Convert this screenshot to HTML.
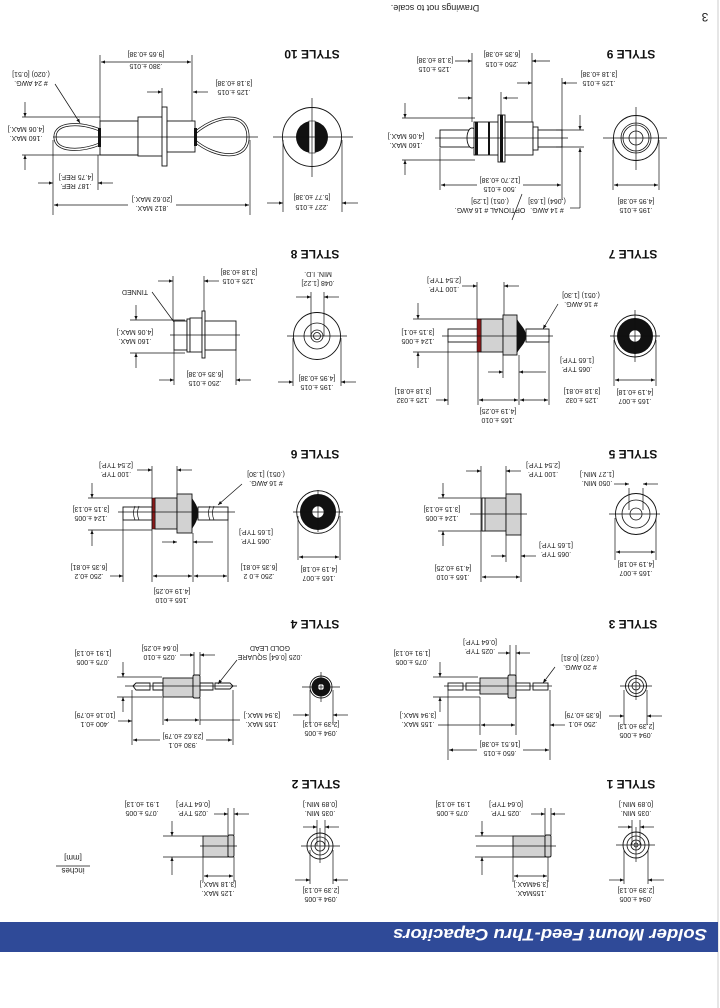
<!DOCTYPE html>
<html><head><meta charset="utf-8"><style>
html,body{margin:0;padding:0;background:#fff}
svg{display:block}
text{font-family:"Liberation Sans",sans-serif;font-size:7px;fill:#222;text-anchor:middle}
.b{font-weight:bold;font-size:12px;fill:#111}
.l{fill:none;stroke:#111;stroke-width:0.8}
.d{fill:none;stroke:#111;stroke-width:0.7}
.g{fill:#d2d2d2;stroke:#111;stroke-width:0.9}
.w{fill:#fff;stroke:#111;stroke-width:0.9}
</style></head><body>
<svg width="720" height="1008" viewBox="0 0 720 1008" xmlns="http://www.w3.org/2000/svg">
<defs>
<marker id="a" viewBox="0 0 10 10" refX="10" refY="5" markerWidth="6" markerHeight="6" orient="auto-start-reverse"><path d="M0,1 L10,5 L0,9 z" fill="#111"/></marker>
</defs>
<line x1="718" y1="0" x2="718" y2="1008" stroke="#ccc" stroke-width="1"/>
<!-- header -->
<text x="435" y="5" transform="rotate(180 435 5)" style="font-size:9px">Drawings not to scale.</text>
<text x="705" y="13" transform="rotate(180 705 13)" style="font-size:12px">3</text>
<!-- banner -->
<rect x="0" y="922" width="718" height="30" fill="#2f4a98"/>
<text x="550" y="929" transform="rotate(180 550 929)" textLength="314" lengthAdjust="spacingAndGlyphs" style="font-size:17px;font-weight:bold;font-style:italic;fill:#fff">Solder Mount Feed-Thru Capacitors</text>

<!-- ================= STYLE 9 ================= -->
<text class="b" x="631" y="50" transform="rotate(180 631 50)">STYLE 9</text>
<circle cx="636" cy="138" r="22.5" class="w"/>
<circle cx="636" cy="138" r="15" class="l"/>
<circle cx="636" cy="138" r="13" class="l"/>
<circle cx="636" cy="138" r="7" class="l"/>
<line x1="603" y1="138" x2="667" y2="138" class="d"/><line x1="636" y1="107" x2="636" y2="170" class="d"/>
<line x1="613" y1="140" x2="613" y2="190" class="d"/><line x1="659" y1="140" x2="659" y2="190" class="d"/>
<line x1="614" y1="185" x2="658" y2="185" class="d" marker-start="url(#a)" marker-end="url(#a)"/>
<text x="636" y="199" transform="rotate(180 636 199)">[4.95 ±0.38]</text>
<text x="636" y="208" transform="rotate(180 636 208)">.195 ±.015</text>
<!-- side -->
<rect x="440" y="130" width="34" height="17" class="w"/>
<ellipse cx="472" cy="138" rx="5" ry="10" class="w"/>
<rect x="474" y="122" width="59" height="33" class="w"/>
<rect x="498" y="115" width="7" height="47" class="w"/>
<rect x="475" y="122" width="3" height="33" fill="#111"/>
<rect x="488" y="122" width="2" height="33" fill="#111"/>
<rect x="500" y="115" width="3" height="47" fill="#111"/>
<rect x="533" y="127" width="5" height="23" class="w"/>
<rect x="538" y="130" width="24" height="17" class="w"/>
<line x1="435" y1="138" x2="568" y2="138" class="d"/>
<line x1="472" y1="53" x2="472" y2="122" class="d"/><line x1="532" y1="53" x2="532" y2="122" class="d"/>
<line x1="455" y1="61" x2="472" y2="61" class="d" marker-end="url(#a)"/><line x1="550" y1="61" x2="532" y2="61" class="d" marker-end="url(#a)"/>
<text x="502" y="52" transform="rotate(180 502 52)">[6.35 ±0.38]</text>
<text x="502" y="62" transform="rotate(180 502 62)">.250 ±.015</text>
<line x1="501" y1="92" x2="501" y2="115" class="d"/>
<line x1="458" y1="98" x2="472" y2="98" class="d" marker-end="url(#a)"/><line x1="518" y1="98" x2="503" y2="98" class="d" marker-end="url(#a)"/>
<text x="435" y="58" transform="rotate(180 435 58)">[3.18 ±0.38]</text>
<text x="435" y="67" transform="rotate(180 435 67)">.125 ±.015</text>
<line x1="562" y1="78" x2="562" y2="200" class="d"/>
<line x1="517" y1="83" x2="532" y2="83" class="d" marker-end="url(#a)"/><line x1="577" y1="83" x2="562" y2="83" class="d" marker-end="url(#a)"/>
<text x="599" y="72" transform="rotate(180 599 72)">[3.18 ±0.38]</text>
<text x="599" y="81" transform="rotate(180 599 81)">.125 ±.015</text>
<line x1="402" y1="118" x2="475" y2="118" class="d"/><line x1="402" y1="160" x2="475" y2="160" class="d"/>
<line x1="405" y1="103" x2="405" y2="118" class="d" marker-end="url(#a)"/><line x1="405" y1="175" x2="405" y2="160" class="d" marker-end="url(#a)"/>
<text x="406" y="134" transform="rotate(180 406 134)">[4.06 MAX.]</text>
<text x="406" y="143" transform="rotate(180 406 143)">.160 MAX.</text>
<line x1="440" y1="148" x2="440" y2="190" class="d"/>
<line x1="441" y1="185" x2="477" y2="185" class="d" marker-start="url(#a)"/><line x1="523" y1="185" x2="561" y2="185" class="d" marker-end="url(#a)"/>
<text x="500" y="178" transform="rotate(180 500 178)">[12.70 ±0.38]</text>
<text x="500" y="187" transform="rotate(180 500 187)">.500 ±.015</text>
<line x1="570" y1="208" x2="580" y2="208" class="d"/><line x1="580" y1="208" x2="580" y2="148" class="d" marker-end="url(#a)"/>
<line x1="580" y1="115" x2="580" y2="130" class="d" marker-end="url(#a)"/>
<line x1="556" y1="147" x2="584" y2="147" class="d"/><line x1="556" y1="130" x2="584" y2="130" class="d"/>
<line x1="522" y1="194" x2="512" y2="220" class="d"/>
<text x="547" y="199" transform="rotate(180 547 199)">(.064) [1.63]</text>
<text x="547" y="208" transform="rotate(180 547 208)"># 14 AWG.</text>
<text x="490" y="199" transform="rotate(180 490 199)">(.051) [1.29]</text>
<text x="490" y="208" transform="rotate(180 490 208)">OPTIONAL # 16 AWG.</text>

<!-- ================= STYLE 10 ================= -->
<text class="b" x="312" y="50" transform="rotate(180 312 50)">STYLE 10</text>
<circle cx="312" cy="137" r="29.5" class="w"/>
<circle cx="312" cy="137" r="16" fill="#111"/>
<rect x="309" y="121" width="6" height="32" fill="#fff" stroke="#111" stroke-width="0.6"/>
<line x1="273" y1="137" x2="353" y2="137" class="d"/><line x1="312" y1="98" x2="312" y2="177" class="d"/>
<line x1="283" y1="140" x2="283" y2="212" class="d"/><line x1="342" y1="140" x2="342" y2="212" class="d"/>
<line x1="267" y1="203" x2="283" y2="203" class="d" marker-end="url(#a)"/><line x1="358" y1="203" x2="342" y2="203" class="d" marker-end="url(#a)"/>
<text x="312" y="195" transform="rotate(180 312 195)">[5.77 ±0.38]</text>
<text x="312" y="205" transform="rotate(180 312 205)">.227 ±.015</text>
<!-- side -->
<path d="M100,130 C80,122 55,122 55,137 C55,152 80,152 100,144 Z" fill="none" stroke="#111" stroke-width="3"/>
<path d="M100,130 C80,122 55,122 55,137 C55,152 80,152 100,144 Z" fill="none" stroke="#fff" stroke-width="1.5"/>
<path d="M195,133 C215,115 248,110 248,137 C248,162 215,158 195,141 Z" fill="none" stroke="#111" stroke-width="3"/>
<path d="M195,133 C215,115 248,110 248,137 C248,162 215,158 195,141 Z" fill="none" stroke="#fff" stroke-width="1.5"/>
<rect x="100" y="121" width="38" height="34" class="w"/>
<rect x="138" y="117" width="25" height="39" class="w"/>
<rect x="162" y="107" width="5" height="59" class="w"/>
<rect x="167" y="121" width="28" height="31" class="w"/>
<rect x="98" y="128" width="3" height="19" fill="#111"/><rect x="194" y="128" width="3" height="18" fill="#111"/>
<line x1="53" y1="137" x2="258" y2="137" class="d"/>
<line x1="100" y1="55" x2="100" y2="121" class="d"/><line x1="192" y1="55" x2="192" y2="121" class="d"/>
<line x1="101" y1="62" x2="191" y2="62" class="d" marker-start="url(#a)" marker-end="url(#a)"/>
<text x="146" y="52" transform="rotate(180 146 52)">[9.65 ±0.38]</text>
<text x="146" y="64" transform="rotate(180 146 64)">.380 ±.015</text>
<line x1="162" y1="88" x2="162" y2="107" class="d"/>
<line x1="147" y1="92" x2="162" y2="92" class="d" marker-end="url(#a)"/><line x1="208" y1="92" x2="193" y2="92" class="d" marker-end="url(#a)"/>
<text x="234" y="81" transform="rotate(180 234 81)">[3.18 ±0.38]</text>
<text x="234" y="90" transform="rotate(180 234 90)">.125 ±.015</text>
<text x="31" y="72" transform="rotate(180 31 72)">(.020) [0.51]</text>
<text x="31" y="81" transform="rotate(180 31 81)"># 24 AWG.</text>
<line x1="55" y1="84" x2="80" y2="123" class="d" marker-end="url(#a)"/>
<line x1="22" y1="117" x2="100" y2="117" class="d"/><line x1="22" y1="155" x2="138" y2="155" class="d"/>
<line x1="25" y1="102" x2="25" y2="117" class="d" marker-end="url(#a)"/><line x1="25" y1="170" x2="25" y2="155" class="d" marker-end="url(#a)"/>
<text x="26" y="127" transform="rotate(180 26 127)">[4.06 MAX.]</text>
<text x="26" y="136" transform="rotate(180 26 136)">.160 MAX.</text>
<line x1="53" y1="140" x2="53" y2="215" class="d"/><line x1="98" y1="155" x2="98" y2="190" class="d"/><line x1="250" y1="140" x2="250" y2="215" class="d"/>
<line x1="38" y1="183" x2="53" y2="183" class="d" marker-end="url(#a)"/><line x1="113" y1="183" x2="98" y2="183" class="d" marker-end="url(#a)"/>
<text x="76" y="175" transform="rotate(180 76 175)">[4.75 REF.]</text>
<text x="76" y="184" transform="rotate(180 76 184)">.187 REF.</text>
<line x1="54" y1="205" x2="128" y2="205" class="d" marker-start="url(#a)"/><line x1="176" y1="205" x2="249" y2="205" class="d" marker-end="url(#a)"/>
<text x="152" y="197" transform="rotate(180 152 197)">[20.62 MAX.]</text>
<text x="152" y="206" transform="rotate(180 152 206)">.812 MAX.</text>

<!-- ================= STYLE 7 ================= -->
<text class="b" x="633" y="250" transform="rotate(180 633 250)">STYLE 7</text>
<circle cx="635" cy="336" r="21" class="w"/>
<circle cx="635" cy="336" r="18" fill="#111"/>
<circle cx="635" cy="336" r="6" fill="#fff" stroke="#111" stroke-width="0.6"/>
<line x1="610" y1="336" x2="660" y2="336" class="d"/><line x1="635" y1="310" x2="635" y2="362" class="d"/>
<line x1="614" y1="340" x2="614" y2="386" class="d"/><line x1="656" y1="340" x2="656" y2="386" class="d"/>
<line x1="615" y1="380" x2="655" y2="380" class="d" marker-start="url(#a)" marker-end="url(#a)"/>
<text x="635" y="390" transform="rotate(180 635 390)">[4.19 ±0.18]</text>
<text x="635" y="399" transform="rotate(180 635 399)">.165 ±.007</text>
<rect x="448" y="329" width="30" height="13" class="w"/>
<rect x="526" y="329" width="23" height="13" class="w"/>
<path d="M517,319 C521,326 526,329 526,336 C526,343 521,346 517,353 Z" fill="#111"/>
<rect x="481" y="319" width="22" height="33" class="g"/>
<rect x="503" y="315" width="14" height="40" class="g"/>
<rect x="477" y="319" width="4" height="33" fill="#8a1a1a" stroke="#111" stroke-width="0.5"/>
<line x1="442" y1="336" x2="553" y2="336" class="d"/>
<line x1="477" y1="282" x2="477" y2="319" class="d"/><line x1="504" y1="282" x2="504" y2="315" class="d"/>
<line x1="462" y1="286" x2="477" y2="286" class="d" marker-end="url(#a)"/><line x1="519" y1="286" x2="504" y2="286" class="d" marker-end="url(#a)"/>
<text x="444" y="278" transform="rotate(180 444 278)">[2.54 TYP.]</text>
<text x="444" y="287" transform="rotate(180 444 287)">.100 TYP.</text>
<text x="581" y="293" transform="rotate(180 581 293)">(.051) [1.30]</text>
<text x="581" y="302" transform="rotate(180 581 302)"># 16 AWG.</text>
<line x1="558" y1="304" x2="543" y2="329" class="d" marker-end="url(#a)"/>
<line x1="413" y1="319" x2="481" y2="319" class="d"/><line x1="413" y1="352" x2="481" y2="352" class="d"/>
<line x1="418" y1="303" x2="418" y2="319" class="d" marker-end="url(#a)"/><line x1="418" y1="368" x2="418" y2="352" class="d" marker-end="url(#a)"/>
<text x="418" y="330" transform="rotate(180 418 330)">[3.15 ±0.1]</text>
<text x="418" y="339" transform="rotate(180 418 339)">.124 ±.005</text>
<line x1="503" y1="355" x2="503" y2="378" class="d"/><line x1="519" y1="355" x2="519" y2="405" class="d"/>
<line x1="488" y1="372" x2="503" y2="372" class="d" marker-end="url(#a)"/><line x1="546" y1="372" x2="519" y2="372" class="d" marker-end="url(#a)"/>
<text x="577" y="358" transform="rotate(180 577 358)">[1.65 TYP.]</text>
<text x="577" y="367" transform="rotate(180 577 367)">.065 TYP.</text>
<line x1="448" y1="342" x2="448" y2="405" class="d"/><line x1="478" y1="352" x2="478" y2="405" class="d"/><line x1="549" y1="342" x2="549" y2="405" class="d"/>
<line x1="436" y1="400" x2="448" y2="400" class="d" marker-end="url(#a)"/>
<text x="413" y="389" transform="rotate(180 413 389)">[3.18 ±0.81]</text>
<text x="413" y="398" transform="rotate(180 413 398)">.125 ±.032</text>
<line x1="479" y1="400" x2="518" y2="400" class="d" marker-start="url(#a)" marker-end="url(#a)"/>
<line x1="520" y1="400" x2="548" y2="400" class="d" marker-start="url(#a)" marker-end="url(#a)"/>
<text x="498" y="409" transform="rotate(180 498 409)">[4.19 ±0.25]</text>
<text x="498" y="418" transform="rotate(180 498 418)">.165 ±.010</text>
<text x="582" y="389" transform="rotate(180 582 389)">[3.18 ±0.81]</text>
<text x="582" y="398" transform="rotate(180 582 398)">.125 ±.032</text>

<!-- ================= STYLE 8 ================= -->
<text class="b" x="315" y="250" transform="rotate(180 315 250)">STYLE 8</text>
<circle cx="317" cy="336" r="23.5" class="w"/>
<circle cx="317" cy="336" r="13" class="l"/>
<circle cx="317" cy="336" r="6" class="l"/>
<circle cx="317" cy="336" r="3.5" class="l"/>
<line x1="287" y1="336" x2="347" y2="336" class="d"/>
<line x1="311" y1="292" x2="311" y2="336" class="d"/><line x1="324" y1="292" x2="324" y2="336" class="d"/>
<line x1="296" y1="297" x2="311" y2="297" class="d" marker-end="url(#a)"/><line x1="339" y1="297" x2="324" y2="297" class="d" marker-end="url(#a)"/>
<text x="318" y="272" transform="rotate(180 318 272)">MIN. I.D.</text>
<text x="318" y="281" transform="rotate(180 318 281)">.048 [1.22]</text>
<line x1="293" y1="338" x2="293" y2="386" class="d"/><line x1="341" y1="338" x2="341" y2="386" class="d"/>
<line x1="278" y1="382" x2="293" y2="382" class="d" marker-end="url(#a)"/><line x1="356" y1="382" x2="341" y2="382" class="d" marker-end="url(#a)"/>
<text x="317" y="376" transform="rotate(180 317 376)">[4.95 ±0.38]</text>
<text x="317" y="385" transform="rotate(180 317 385)">.195 ±.015</text>
<rect x="174" y="321" width="13" height="29" class="w"/>
<rect x="187" y="319" width="3" height="33" class="w"/>
<rect x="190" y="318" width="12" height="34" class="w"/>
<rect x="202" y="311" width="3" height="47" class="w"/>
<rect x="205" y="321" width="31" height="29" class="w"/>
<line x1="170" y1="335" x2="240" y2="335" class="d"/>
<line x1="173" y1="276" x2="173" y2="321" class="d"/><line x1="204" y1="276" x2="204" y2="311" class="d"/>
<line x1="158" y1="281" x2="173" y2="281" class="d" marker-end="url(#a)"/><line x1="219" y1="281" x2="204" y2="281" class="d" marker-end="url(#a)"/>
<text x="239" y="270" transform="rotate(180 239 270)">[3.18 ±0.38]</text>
<text x="239" y="279" transform="rotate(180 239 279)">.125 ±.015</text>
<text x="135" y="290" transform="rotate(180 135 290)">TINNED</text>
<line x1="152" y1="292" x2="174" y2="322" class="d"/>
<line x1="130" y1="320" x2="185" y2="320" class="d"/><line x1="130" y1="353" x2="185" y2="353" class="d"/>
<line x1="136" y1="305" x2="136" y2="320" class="d" marker-end="url(#a)"/><line x1="136" y1="368" x2="136" y2="353" class="d" marker-end="url(#a)"/>
<text x="135" y="330" transform="rotate(180 135 330)">[4.06 MAX.]</text>
<text x="135" y="339" transform="rotate(180 135 339)">.160 MAX.</text>
<line x1="174" y1="350" x2="174" y2="385" class="d"/><line x1="236" y1="350" x2="236" y2="385" class="d"/>
<line x1="159" y1="380" x2="174" y2="380" class="d" marker-end="url(#a)"/><line x1="251" y1="380" x2="236" y2="380" class="d" marker-end="url(#a)"/>
<text x="205" y="372" transform="rotate(180 205 372)">[6.35 ±0.38]</text>
<text x="205" y="381" transform="rotate(180 205 381)">.250 ±.015</text>

<!-- ================= STYLE 5 ================= -->
<text class="b" x="633" y="450" transform="rotate(180 633 450)">STYLE 5</text>
<circle cx="636" cy="514" r="20.5" class="w"/>
<circle cx="636" cy="514" r="14" class="l"/>
<circle cx="636" cy="514" r="6" class="l"/>
<line x1="609" y1="514" x2="660" y2="514" class="d"/>
<line x1="629" y1="488" x2="629" y2="510" class="d"/><line x1="643" y1="488" x2="643" y2="510" class="d"/>
<line x1="614" y1="484" x2="629" y2="484" class="d" marker-end="url(#a)"/><line x1="658" y1="484" x2="643" y2="484" class="d" marker-end="url(#a)"/>
<text x="597" y="472" transform="rotate(180 597 472)">[1.27 MIN.]</text>
<text x="597" y="481" transform="rotate(180 597 481)">.050 MIN.</text>
<line x1="615" y1="518" x2="615" y2="560" class="d"/><line x1="656" y1="518" x2="656" y2="560" class="d"/>
<line x1="616" y1="552" x2="655" y2="552" class="d" marker-start="url(#a)" marker-end="url(#a)"/>
<text x="636" y="562" transform="rotate(180 636 562)">[4.19 ±0.18]</text>
<text x="636" y="571" transform="rotate(180 636 571)">.165 ±.007</text>
<rect x="482" y="498" width="24" height="33" class="g"/>
<rect x="482" y="498" width="3" height="33" class="w"/>
<rect x="506" y="494" width="15" height="41" class="g"/>
<line x1="470" y1="514" x2="527" y2="514" class="d"/>
<line x1="481" y1="466" x2="481" y2="582" class="d"/><line x1="506" y1="466" x2="506" y2="494" class="d"/><line x1="506" y1="535" x2="506" y2="562" class="d"/><line x1="521" y1="535" x2="521" y2="582" class="d"/>
<line x1="466" y1="471" x2="481" y2="471" class="d" marker-end="url(#a)"/><line x1="521" y1="471" x2="506" y2="471" class="d" marker-end="url(#a)"/>
<text x="543" y="463" transform="rotate(180 543 463)">[2.54 TYP.]</text>
<text x="543" y="472" transform="rotate(180 543 472)">.100 TYP.</text>
<line x1="438" y1="498" x2="481" y2="498" class="d"/><line x1="438" y1="531" x2="481" y2="531" class="d"/>
<line x1="443" y1="483" x2="443" y2="498" class="d" marker-end="url(#a)"/><line x1="443" y1="546" x2="443" y2="531" class="d" marker-end="url(#a)"/>
<text x="442" y="507" transform="rotate(180 442 507)">[3.15 ±0.13]</text>
<text x="442" y="516" transform="rotate(180 442 516)">.124 ±.005</text>
<line x1="491" y1="556" x2="506" y2="556" class="d" marker-end="url(#a)"/><line x1="536" y1="556" x2="521" y2="556" class="d" marker-end="url(#a)"/>
<text x="556" y="543" transform="rotate(180 556 543)">[1.65 TYP.]</text>
<text x="556" y="552" transform="rotate(180 556 552)">.065 TYP.</text>
<line x1="482" y1="577" x2="520" y2="577" class="d" marker-start="url(#a)" marker-end="url(#a)"/>
<text x="453" y="566" transform="rotate(180 453 566)">[4.19 ±0.25]</text>
<text x="453" y="575" transform="rotate(180 453 575)">.165 ±.010</text>

<!-- ================= STYLE 6 ================= -->
<text class="b" x="315" y="450" transform="rotate(180 315 450)">STYLE 6</text>
<circle cx="318" cy="512" r="21.3" class="w"/>
<circle cx="318" cy="512" r="18" fill="#111"/>
<circle cx="318" cy="512" r="6" fill="#fff" stroke="#111" stroke-width="0.6"/>
<line x1="293" y1="512" x2="343" y2="512" class="d"/><line x1="318" y1="490" x2="318" y2="532" class="d"/>
<line x1="298" y1="516" x2="298" y2="560" class="d"/><line x1="340" y1="516" x2="340" y2="560" class="d"/>
<line x1="299" y1="557" x2="339" y2="557" class="d" marker-start="url(#a)" marker-end="url(#a)"/>
<text x="319" y="567" transform="rotate(180 319 567)">[4.19 ±0.18]</text>
<text x="319" y="576" transform="rotate(180 319 576)">.165 ±.007</text>
<rect x="123" y="507" width="29" height="13" class="w"/>
<rect x="198" y="507" width="30" height="13" class="w"/>
<path d="M135,506 q-3,7 0,14 M139,506 q-3,7 0,14 M210,506 q-3,7 0,14 M214,506 q-3,7 0,14" class="d"/>
<path d="M192,498 C195,503 198,506 198,513 C198,520 195,524 192,529 Z" fill="#111"/>
<rect x="155" y="498" width="22" height="31" class="g"/>
<rect x="177" y="494" width="15" height="39" class="g"/>
<rect x="152" y="498" width="3" height="31" fill="#8a1a1a" stroke="#111" stroke-width="0.5"/>
<line x1="118" y1="512" x2="235" y2="512" class="d"/>
<line x1="152" y1="466" x2="152" y2="582" class="d"/><line x1="177" y1="466" x2="177" y2="494" class="d"/>
<line x1="137" y1="470" x2="152" y2="470" class="d" marker-end="url(#a)"/><line x1="192" y1="470" x2="177" y2="470" class="d" marker-end="url(#a)"/>
<text x="116" y="463" transform="rotate(180 116 463)">[2.54 TYP.]</text>
<text x="116" y="472" transform="rotate(180 116 472)">.100 TYP.</text>
<text x="266" y="472" transform="rotate(180 266 472)">(.051) [1.30]</text>
<text x="266" y="481" transform="rotate(180 266 481)"># 16 AWG.</text>
<line x1="242" y1="484" x2="218" y2="505" class="d" marker-end="url(#a)"/>
<line x1="88" y1="498" x2="152" y2="498" class="d"/><line x1="88" y1="530" x2="152" y2="530" class="d"/>
<line x1="92" y1="483" x2="92" y2="498" class="d" marker-end="url(#a)"/><line x1="92" y1="546" x2="92" y2="530" class="d" marker-end="url(#a)"/>
<text x="91" y="507" transform="rotate(180 91 507)">[3.15 ±0.13]</text>
<text x="91" y="516" transform="rotate(180 91 516)">.124 ±.005</text>
<line x1="193" y1="533" x2="193" y2="582" class="d"/><line x1="123" y1="520" x2="123" y2="582" class="d"/><line x1="228" y1="520" x2="228" y2="582" class="d"/>
<line x1="162" y1="542" x2="177" y2="542" class="d" marker-end="url(#a)"/><line x1="213" y1="542" x2="193" y2="542" class="d" marker-end="url(#a)"/>
<text x="256" y="530" transform="rotate(180 256 530)">[1.65 TYP.]</text>
<text x="256" y="539" transform="rotate(180 256 539)">.065 TYP.</text>
<line x1="110" y1="576" x2="123" y2="576" class="d" marker-end="url(#a)"/>
<text x="89" y="565" transform="rotate(180 89 565)">[6.35 ±0.81]</text>
<text x="89" y="574" transform="rotate(180 89 574)">.250 ±0.2</text>
<line x1="153" y1="576" x2="192" y2="576" class="d" marker-start="url(#a)" marker-end="url(#a)"/>
<line x1="194" y1="576" x2="227" y2="576" class="d" marker-start="url(#a)" marker-end="url(#a)"/>
<text x="172" y="589" transform="rotate(180 172 589)">[4.19 ±0.25]</text>
<text x="172" y="598" transform="rotate(180 172 598)">.165 ±.010</text>
<text x="259" y="565" transform="rotate(180 259 565)">[6.35 ±0.81]</text>
<text x="259" y="574" transform="rotate(180 259 574)">.250 ±.0 2</text>

<!-- ================= STYLE 3 ================= -->
<text class="b" x="633" y="620" transform="rotate(180 633 620)">STYLE 3</text>
<circle cx="636" cy="686" r="10.5" class="w"/>
<circle cx="636" cy="686" r="7.5" class="l"/>
<circle cx="636" cy="686" r="4" class="l"/>
<line x1="620" y1="686" x2="652" y2="686" class="d"/><line x1="636" y1="670" x2="636" y2="700" class="d"/>
<line x1="624" y1="690" x2="624" y2="725" class="d"/><line x1="647" y1="690" x2="647" y2="725" class="d"/>
<line x1="609" y1="716" x2="624" y2="716" class="d" marker-end="url(#a)"/><line x1="662" y1="716" x2="647" y2="716" class="d" marker-end="url(#a)"/>
<text x="636" y="724" transform="rotate(180 636 724)">[2.39 ±0.13]</text>
<text x="636" y="733" transform="rotate(180 636 733)">.094 ±.005</text>
<rect x="448" y="683" width="15" height="7" class="w"/><rect x="466" y="683" width="14" height="7" class="w"/>
<rect x="516" y="683" width="14" height="7" class="w"/><rect x="533" y="683" width="15" height="7" class="w"/>
<rect x="480" y="678" width="28" height="16" class="g"/>
<rect x="508" y="675" width="8" height="23" rx="1.5" class="g"/>
<line x1="444" y1="686" x2="552" y2="686" class="d"/>
<line x1="510" y1="645" x2="510" y2="675" class="d"/><line x1="516" y1="645" x2="516" y2="735" class="d"/>
<line x1="498" y1="653" x2="510" y2="653" class="d" marker-end="url(#a)"/><line x1="530" y1="653" x2="516" y2="653" class="d" marker-end="url(#a)"/>
<text x="480" y="640" transform="rotate(180 480 640)">[0.64 TYP.]</text>
<text x="480" y="649" transform="rotate(180 480 649)">.025 TYP.</text>
<line x1="433" y1="677" x2="478" y2="677" class="d"/><line x1="433" y1="697" x2="480" y2="697" class="d"/>
<line x1="440" y1="662" x2="440" y2="677" class="d" marker-end="url(#a)"/><line x1="440" y1="712" x2="440" y2="697" class="d" marker-end="url(#a)"/>
<text x="412" y="651" transform="rotate(180 412 651)">[1.91 ±0.13]</text>
<text x="412" y="660" transform="rotate(180 412 660)">.075 ±.005</text>
<text x="580" y="656" transform="rotate(180 580 656)">(.032) [0.81]</text>
<text x="580" y="665" transform="rotate(180 580 665)"># 20 AWG.</text>
<line x1="555" y1="667" x2="543" y2="683" class="d" marker-end="url(#a)"/>
<line x1="480" y1="697" x2="480" y2="735" class="d"/>
<line x1="481" y1="725" x2="515" y2="725" class="d" marker-start="url(#a)" marker-end="url(#a)"/>
<line x1="438" y1="725" x2="480" y2="725" class="d"/>
<text x="418" y="713" transform="rotate(180 418 713)">[3.94 MAX.]</text>
<text x="418" y="722" transform="rotate(180 418 722)">.155 MAX.</text>
<line x1="550" y1="690" x2="550" y2="760" class="d"/><line x1="448" y1="690" x2="448" y2="760" class="d"/>
<line x1="565" y1="725" x2="550" y2="725" class="d" marker-end="url(#a)"/>
<text x="583" y="713" transform="rotate(180 583 713)">[6.35 ±0.79]</text>
<text x="583" y="722" transform="rotate(180 583 722)">.250 ±0.1</text>
<line x1="449" y1="750" x2="477" y2="750" class="d" marker-start="url(#a)"/><line x1="523" y1="750" x2="549" y2="750" class="d" marker-end="url(#a)"/>
<text x="500" y="742" transform="rotate(180 500 742)">[16.51 ±0.38]</text>
<text x="500" y="751" transform="rotate(180 500 751)">.650 ±.015</text>

<!-- ================= STYLE 4 ================= -->
<text class="b" x="315" y="620" transform="rotate(180 315 620)">STYLE 4</text>
<circle cx="321" cy="687" r="11" class="w"/>
<circle cx="321" cy="687" r="9.5" fill="#111"/>
<circle cx="321" cy="687" r="3" fill="#fff"/>
<line x1="302" y1="687" x2="340" y2="687" class="d"/><line x1="321" y1="672" x2="321" y2="702" class="d"/>
<line x1="310" y1="690" x2="310" y2="725" class="d"/><line x1="333" y1="690" x2="333" y2="725" class="d"/>
<line x1="293" y1="715" x2="309" y2="715" class="d" marker-end="url(#a)"/><line x1="348" y1="715" x2="333" y2="715" class="d" marker-end="url(#a)"/>
<text x="321" y="722" transform="rotate(180 321 722)">[2.39 ±0.13]</text>
<text x="321" y="731" transform="rotate(180 321 731)">.094 ±.005</text>
<path d="M133,686 l3,-3 h14 v7 h-14 z M153,683 h10 v7 h-10 z M200,683 h13 v7 h-13 z M215,683 h15 l3,3 l-3,3 h-15 z" class="w"/>
<rect x="163" y="678" width="30" height="19" class="g"/>
<rect x="193" y="675" width="7" height="23" rx="1.5" class="g"/>
<line x1="125" y1="686" x2="237" y2="686" class="d"/>
<line x1="194" y1="652" x2="194" y2="675" class="d"/><line x1="200" y1="652" x2="200" y2="675" class="d"/>
<line x1="180" y1="655" x2="194" y2="655" class="d" marker-end="url(#a)"/><line x1="215" y1="655" x2="200" y2="655" class="d" marker-end="url(#a)"/>
<text x="160" y="646" transform="rotate(180 160 646)">[0.64 ±0.25]</text>
<text x="160" y="655" transform="rotate(180 160 655)">.025 ±.010</text>
<text x="270" y="646" transform="rotate(180 270 646)">GOLD LEAD</text>
<text x="270" y="655" transform="rotate(180 270 655)">.025 [0.64] SQUARE</text>
<line x1="237" y1="660" x2="218" y2="684" class="d" marker-end="url(#a)"/>
<line x1="117" y1="677" x2="162" y2="677" class="d"/><line x1="117" y1="697" x2="162" y2="697" class="d"/>
<line x1="123" y1="662" x2="123" y2="677" class="d" marker-end="url(#a)"/><line x1="123" y1="712" x2="123" y2="697" class="d" marker-end="url(#a)"/>
<text x="93" y="651" transform="rotate(180 93 651)">[1.91 ±0.13]</text>
<text x="93" y="660" transform="rotate(180 93 660)">.075 ±.005</text>
<line x1="132" y1="690" x2="132" y2="745" class="d"/><line x1="233" y1="690" x2="233" y2="745" class="d"/>
<line x1="163" y1="697" x2="163" y2="725" class="d"/><line x1="200" y1="698" x2="200" y2="725" class="d"/>
<line x1="118" y1="721" x2="132" y2="721" class="d" marker-end="url(#a)"/>
<text x="95" y="713" transform="rotate(180 95 713)">[10.16 ±0.79]</text>
<text x="95" y="722" transform="rotate(180 95 722)">.400 ±0.1</text>
<line x1="164" y1="720" x2="199" y2="720" class="d" marker-start="url(#a)" marker-end="url(#a)"/>
<line x1="200" y1="720" x2="240" y2="720" class="d"/>
<text x="262" y="713" transform="rotate(180 262 713)">[3.94 MAX.]</text>
<text x="262" y="722" transform="rotate(180 262 722)">.155 MAX.</text>
<line x1="133" y1="740" x2="160" y2="740" class="d" marker-start="url(#a)"/><line x1="206" y1="740" x2="232" y2="740" class="d" marker-end="url(#a)"/>
<text x="183" y="734" transform="rotate(180 183 734)">[23.62 ±0.79]</text>
<text x="183" y="743" transform="rotate(180 183 743)">.930 ±0.1</text>

<!-- ================= STYLE 1 ================= -->
<text class="b" x="631" y="780" transform="rotate(180 631 780)">STYLE 1</text>
<circle cx="636" cy="845" r="13" class="w"/>
<circle cx="636" cy="845" r="9" class="l"/>
<circle cx="636" cy="845" r="5" class="l"/>
<circle cx="636" cy="845" r="2" class="l"/>
<line x1="616" y1="845" x2="655" y2="845" class="d"/><line x1="636" y1="827" x2="636" y2="862" class="d"/>
<line x1="632" y1="820" x2="632" y2="845" class="d"/><line x1="640" y1="820" x2="640" y2="845" class="d"/>
<line x1="618" y1="827" x2="632" y2="827" class="d" marker-end="url(#a)"/><line x1="654" y1="827" x2="640" y2="827" class="d" marker-end="url(#a)"/>
<text x="636" y="802" transform="rotate(180 636 802)">[0.89 MIN.]</text>
<text x="636" y="811" transform="rotate(180 636 811)">.035 MIN.</text>
<line x1="624" y1="850" x2="624" y2="884" class="d"/><line x1="648" y1="850" x2="648" y2="884" class="d"/>
<line x1="609" y1="880" x2="624" y2="880" class="d" marker-end="url(#a)"/><line x1="664" y1="880" x2="648" y2="880" class="d" marker-end="url(#a)"/>
<text x="636" y="888" transform="rotate(180 636 888)">[2.39 ±0.13]</text>
<text x="636" y="897" transform="rotate(180 636 897)">.094 ±.005</text>
<rect x="513" y="836" width="32" height="21" class="g"/>
<rect x="545" y="835" width="6" height="22" rx="1.5" class="g"/>
<line x1="476" y1="846" x2="556" y2="846" class="d"/>
<line x1="545" y1="808" x2="545" y2="835" class="d"/><line x1="551" y1="808" x2="551" y2="835" class="d"/>
<line x1="531" y1="814" x2="545" y2="814" class="d" marker-end="url(#a)"/><line x1="565" y1="814" x2="551" y2="814" class="d" marker-end="url(#a)"/>
<text x="506" y="802" transform="rotate(180 506 802)">[0.64 TYP.]</text>
<text x="506" y="811" transform="rotate(180 506 811)">.025 TYP.</text>
<line x1="475" y1="836" x2="513" y2="836" class="d"/><line x1="475" y1="857" x2="513" y2="857" class="d"/>
<line x1="482" y1="821" x2="482" y2="836" class="d" marker-end="url(#a)"/><line x1="482" y1="875" x2="482" y2="857" class="d" marker-end="url(#a)"/>
<text x="453" y="802" transform="rotate(180 453 802)">1.91 ±0.13]</text>
<text x="453" y="811" transform="rotate(180 453 811)">.075 ±.005</text>
<line x1="513" y1="857" x2="513" y2="882" class="d"/><line x1="548" y1="857" x2="548" y2="882" class="d"/>
<line x1="514" y1="876" x2="547" y2="876" class="d" marker-start="url(#a)" marker-end="url(#a)"/>
<text x="531" y="882" transform="rotate(180 531 882)">[3.94MAX.]</text>
<text x="531" y="891" transform="rotate(180 531 891)">.155MAX.</text>

<!-- ================= STYLE 2 ================= -->
<text class="b" x="316" y="780" transform="rotate(180 316 780)">STYLE 2</text>
<circle cx="320" cy="846" r="13" class="w"/>
<circle cx="320" cy="846" r="9" class="l"/>
<circle cx="320" cy="846" r="5" class="l"/>
<line x1="301" y1="846" x2="340" y2="846" class="d"/><line x1="320" y1="828" x2="320" y2="863" class="d"/>
<line x1="317" y1="820" x2="317" y2="846" class="d"/><line x1="325" y1="820" x2="325" y2="846" class="d"/>
<line x1="303" y1="827" x2="317" y2="827" class="d" marker-end="url(#a)"/><line x1="339" y1="827" x2="325" y2="827" class="d" marker-end="url(#a)"/>
<text x="320" y="802" transform="rotate(180 320 802)">[0.89 MIN.]</text>
<text x="320" y="811" transform="rotate(180 320 811)">.035 MIN.</text>
<line x1="310" y1="850" x2="310" y2="884" class="d"/><line x1="333" y1="850" x2="333" y2="884" class="d"/>
<line x1="295" y1="880" x2="310" y2="880" class="d" marker-end="url(#a)"/><line x1="348" y1="880" x2="333" y2="880" class="d" marker-end="url(#a)"/>
<text x="321" y="888" transform="rotate(180 321 888)">[2.39 ±0.13]</text>
<text x="321" y="897" transform="rotate(180 321 897)">.094 ±.005</text>
<rect x="203" y="836" width="25" height="21" class="g"/>
<rect x="228" y="835" width="6" height="22" rx="1.5" class="g"/>
<line x1="200" y1="846" x2="237" y2="846" class="d"/>
<line x1="228" y1="808" x2="228" y2="835" class="d"/><line x1="234" y1="808" x2="234" y2="835" class="d"/>
<line x1="214" y1="814" x2="228" y2="814" class="d" marker-end="url(#a)"/><line x1="249" y1="814" x2="234" y2="814" class="d" marker-end="url(#a)"/>
<text x="193" y="802" transform="rotate(180 193 802)">[0.64 TYP.]</text>
<text x="193" y="811" transform="rotate(180 193 811)">.025 TYP.</text>
<line x1="163" y1="836" x2="203" y2="836" class="d"/><line x1="163" y1="857" x2="203" y2="857" class="d"/>
<line x1="172" y1="821" x2="172" y2="836" class="d" marker-end="url(#a)"/><line x1="172" y1="875" x2="172" y2="857" class="d" marker-end="url(#a)"/>
<text x="142" y="802" transform="rotate(180 142 802)">1.91 ±0.13]</text>
<text x="142" y="811" transform="rotate(180 142 811)">.075 ±.005</text>
<line x1="203" y1="857" x2="203" y2="882" class="d"/><line x1="234" y1="857" x2="234" y2="882" class="d"/>
<line x1="204" y1="876" x2="233" y2="876" class="d" marker-start="url(#a)" marker-end="url(#a)"/>
<text x="218" y="882" transform="rotate(180 218 882)">[3.18 MAX.]</text>
<text x="218" y="891" transform="rotate(180 218 891)">.125 MAX.</text>
<!-- units -->
<text x="73" y="855" transform="rotate(180 73 855)" style="font-size:8px">[mm]</text>
<line x1="56" y1="866" x2="90" y2="866" stroke="#111" stroke-width="0.7"/>
<text x="73" y="868" transform="rotate(180 73 868)" style="font-size:8px">inches</text>
</svg>
</body></html>
